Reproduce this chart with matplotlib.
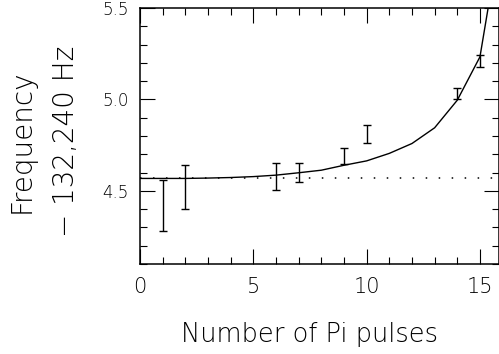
import matplotlib
matplotlib.use("Agg")
import matplotlib.pyplot as plt
from matplotlib.ticker import MultipleLocator, FixedLocator

# Measured frequencies (offset from 132,240 Hz) with their uncertainties
pulses = [1, 2, 6, 7, 9, 10, 14, 15]
freq = [4.42, 4.52, 4.58, 4.60, 4.69, 4.81, 5.03, 5.21]
freq_err = [0.14, 0.12, 0.075, 0.053, 0.044, 0.05, 0.03, 0.035]

# Model curve evaluated at integer pulse numbers
model_n = [0, 1, 2, 3, 4, 5, 6, 7, 8, 9, 10, 11, 12, 13, 14, 15, 16]
model_f = [4.568, 4.568, 4.568, 4.570, 4.573, 4.578, 4.586, 4.599, 4.613,
           4.640, 4.664, 4.705, 4.759, 4.845, 4.996, 5.233, 5.975]

# Unperturbed frequency
baseline = 4.568

x_ticks = [0, 5, 10, 15]
y_ticks = [4.5, 5.0, 5.5]
y_tick_labels = ["4.5", "5.0", "5.5"]

plt.rcParams["font.family"] = ["DejaVu Sans"]
plt.rcParams["font.weight"] = "light"
plt.rcParams["axes.labelweight"] = "light"

fig = plt.figure(figsize=(4.99, 3.54), dpi=100)
ax = fig.add_axes([0.2806, 0.2542, 0.7194, 0.7232])

ax.plot(model_n, model_f, color="black", lw=1.0, clip_on=True)
ax.axhline(baseline, color="black", lw=1.1, linestyle=(0, (1, 7.5)))
ax.errorbar(pulses, freq, yerr=freq_err, fmt="none", ecolor="black",
            elinewidth=1.0, capsize=3.0, capthick=1.0)

ax.set_xlim(0, 15.84)
ax.set_ylim(4.1, 5.5)

ax.xaxis.set_major_locator(FixedLocator(x_ticks))
ax.xaxis.set_minor_locator(MultipleLocator(1))
ax.yaxis.set_major_locator(FixedLocator(y_ticks))
ax.set_yticklabels(y_tick_labels)
ax.yaxis.set_minor_locator(MultipleLocator(0.1))

ax.tick_params(which="both", direction="in", top=True, right=True,
               width=0.8, color="black")
ax.tick_params(which="major", length=10.5)
ax.tick_params(which="minor", length=5.2)
ax.tick_params(axis="x", which="major", labelsize=15, pad=9)
ax.tick_params(axis="y", which="major", labelsize=12, pad=8)

for s in ax.spines.values():
    s.set_linewidth(1.1)

ax.set_xlabel("Number of Pi pulses", fontsize=18.5, fontweight="light")
ax.xaxis.set_label_coords(0.471, -0.228)

ax.set_ylabel("Frequency\n\u2212 132,240 Hz", fontsize=20, linespacing=1.75,
              fontweight="light")
ax.yaxis.set_label_coords(-0.168, 0.48)

fig.savefig("out.png", dpi=100)
